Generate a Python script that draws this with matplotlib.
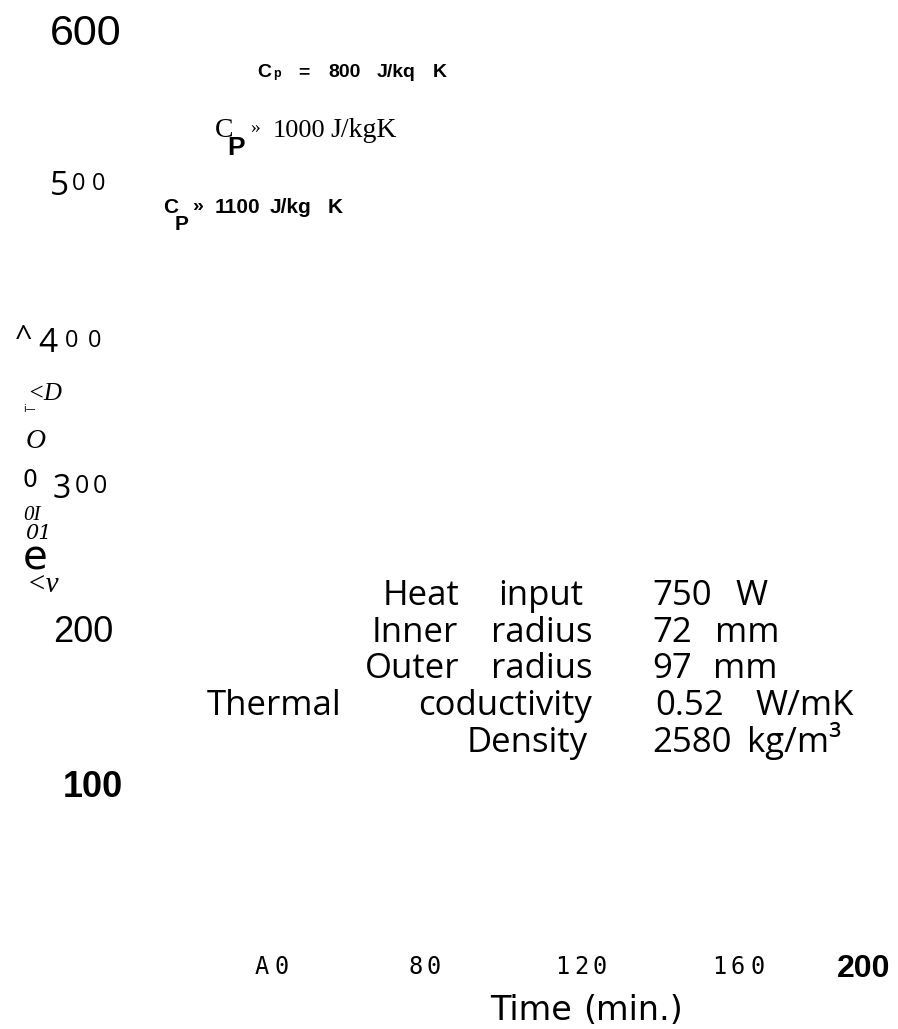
import matplotlib
matplotlib.use("Agg")
import matplotlib.pyplot as plt

# ---------------- data (text content of the chart) ----------------
y_tick_labels = ["600", "500", "^400", "300", "200", "100"]
x_tick_labels = ["A0", "80", "120", "160", "200"]
x_label_words = ["Time", "(min.)"]
ylabel_fragments = ["<D", "i\u2014", "O", "0", "0I", "01", "e", "<v"]
cp_symbols = ["C", "C", "C"]
cp_subs = ["p", "P", "P"]
cp_values = ["800", "1000", "1100"]
cp_units = ["J/kq K", "J/kgK", "J/kg K"]
table_labels = ["Heat input", "Inner radius", "Outer radius",
                "Thermal coductivity", "Density"]
table_values = ["750 W", "72 mm", "97 mm", "0.52 W/mK", "2580 kg/m\u00b3"]

# ---------------- fonts ----------------
SANS = "Liberation Sans"
SERIF = "Liberation Serif"
HUM = "Open Sans"
MONO = "DejaVu Sans Mono"
DJ = "DejaVu Sans"

W, H = 898, 1029
fig = plt.figure(figsize=(W / 100, H / 100), dpi=100)
ax = fig.add_axes([0, 0, 1, 1])
ax.set_xlim(0, W)
ax.set_ylim(H, 0)
ax.axis("off")


def put(x, y, s, family, size, weight="normal", style="normal", ha="left"):
    ax.text(x, y, s, family=[family, "DejaVu Sans"], fontsize=size,
            fontweight=weight, fontstyle=style, ha=ha, va="baseline",
            color="black")


def put_chars(xs, s, family, sizes, ys, weight="normal"):
    for i, ch in enumerate(s):
        sz = sizes if not isinstance(sizes, (list, tuple)) else sizes[i]
        yy = ys if not isinstance(ys, (list, tuple)) else ys[i]
        put(xs[i], yy, ch, family, sz, weight=weight)


# ---------------- y tick labels ----------------
put(50, 45, y_tick_labels[0], SANS, 31)
put_chars([50, 72, 92], y_tick_labels[1], HUM, [24, 17, 17], [195, 190, 190])
put_chars([15, 38, 65, 88], y_tick_labels[2], HUM, [22, 24, 17, 17],
          [347, 352, 347, 347])
put_chars([53, 75, 93], y_tick_labels[3], HUM, [23, 18, 18], [498, 493, 493])
put(53, 642, y_tick_labels[4], SANS, 26)
put(63, 797, y_tick_labels[5], SANS, 26, weight="bold")

# ---------------- garbled y label ----------------
frag_layout = [  # x, baseline, family, size, style
    (27, 400, SERIF, 18, "italic"),
    (23, 412, DJ, 7, "normal"),
    (26, 448, SERIF, 20, "italic"),
    (23, 487, DJ, 17, "normal"),
    (23, 520, SERIF, 15, "italic"),
    (25, 539, "DejaVu Serif", 15, "italic"),
    (23, 570, DJ, 29, "normal"),
    (27, 592, SERIF, 21, "italic"),
]
for s, (x, y, fam, sz, st) in zip(ylabel_fragments, frag_layout):
    put(x, y, s, fam, sz, style=st)

# ---------------- Cp annotations ----------------
# Cp = 800 J/kq K (bold sans)
put(257, 77, cp_symbols[0], SANS, 14, weight="bold")
put(273, 77, cp_subs[0], SANS, 9, weight="bold")
put(298, 77, "=", SANS, 14, weight="bold")
put(328, 77, cp_values[0], SANS, 14, weight="bold")
u0 = cp_units[0].split()
put(377, 77, u0[0], SANS, 14, weight="bold")
put(433, 77, u0[1], SANS, 14, weight="bold")

# C_P >> 1000 J/kgK (serif)
put(215, 137, cp_symbols[1], SERIF, 20)
put(227, 155, cp_subs[1], SANS, 19, weight="bold")
put(250, 133, "\u00bb", SERIF, 14)
put(273, 137, cp_values[1], SERIF, 19)
put(330, 137, cp_units[1], SERIF, 20)

# C_P >> 1100 J/kg K (bold sans)
put(163, 213, cp_symbols[2], SANS, 15, weight="bold")
put(175, 230, cp_subs[2], SANS, 15, weight="bold")
put(192, 211, "\u00bb", SANS, 14, weight="bold")
put(215, 213, cp_values[2], SANS, 15, weight="bold")
u2 = cp_units[2].split()
put(270, 213, u2[0], SANS, 15, weight="bold")
put(328, 213, u2[1], SANS, 15, weight="bold")

# ---------------- property table ----------------
row_base = [605, 642, 678, 715, 752]
first_word_x = [383, 372, 365, 207, None]
right_edge = [583, 592, 592, 592, 588]
val_x = [652, 652, 652, 655, 652]
unit_x = [735, 715, 713, 755, 747]
TS = 25
for i, (lab, val) in enumerate(zip(table_labels, table_values)):
    words = lab.split()
    y = row_base[i]
    if len(words) == 1:
        put(right_edge[i], y, words[0], HUM, TS, ha="right")
    else:
        put(first_word_x[i], y, words[0], HUM, TS)
        put(right_edge[i], y, words[1], HUM, TS, ha="right")
    v = val.split()
    put(val_x[i], y, v[0], HUM, TS)
    put(unit_x[i], y, v[1], HUM, TS)

# ---------------- x tick labels ----------------
xt_left = [255, 408, 555, 712]
adv = 19
for lab, x0 in zip(x_tick_labels[:4], xt_left):
    put_chars([x0 + k * adv for k in range(len(lab))], lab, MONO, 17, 974)
put(837, 977, x_tick_labels[4], SANS, 23, weight="bold")

# ---------------- x label ----------------
put(490, 1020, x_label_words[0], DJ, 24)
put(583, 1020, x_label_words[1], DJ, 24)

fig.savefig("out.png", dpi=100, facecolor="white")
